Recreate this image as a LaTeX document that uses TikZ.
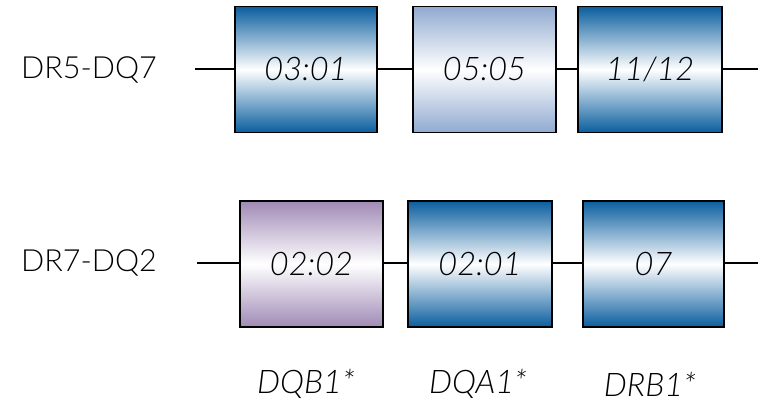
\documentclass[tikz,border=0pt]{standalone}
\usepackage{fontspec}
\setmainfont{Lato}[UprightFont=* Light, ItalicFont=* Light Italic]
\begin{document}
\begin{tikzpicture}[x=1pt,y=1pt,
  lbl/.style={font=\fontsize{30.5}{34}\selectfont, anchor=west, inner sep=0},
  boxtxt/.style={font=\fontsize{32.5}{36}\selectfont\itshape, inner sep=0},
  conn/.style={line width=1.6pt},
  blk/.style={draw=black, line width=1.8pt},
  blue/.style={blk, top color=dblue, bottom color=dblue, middle color=white},
  lblue/.style={blk, top color=lblue, bottom color=lblue, middle color=white},
  purp/.style={blk, top color=purpc, bottom color=purpc, middle color=white}]
\definecolor{dblue}{HTML}{0A5E9E}
\definecolor{lblue}{HTML}{90AAD0}
\definecolor{purpc}{HTML}{A08AB6}
\useasboundingbox (0,0) rectangle (769,406);
% row 1
\node[lbl] (r1) at (21,336) {DR5-DQ7};
\coordinate (r1s) at (195,337);
\coordinate (r1e) at (758,337);
\node[blue, minimum width=142pt, minimum height=126pt] (a1) at (306,336.5) {};
\node[lblue, minimum width=143pt, minimum height=126pt] (a2) at (484.5,336.5) {};
\node[blue, minimum width=144pt, minimum height=126pt] (a3) at (650,336.5) {};
\node[boxtxt] at (a1) {03:01};
\node[boxtxt] at (a2) {05:05};
\node[boxtxt] at (a3) {11/12};
\draw[conn] (r1s) -- (a1.west |- r1s);
\draw[conn] (a1.east |- r1s) -- (a2.west |- r1s);
\draw[conn] (a2.east |- r1s) -- (a3.west |- r1s);
\draw[conn] (a3.east |- r1s) -- (r1e);
% row 2
\node[lbl] (r2) at (21,143) {DR7-DQ2};
\coordinate (r2s) at (197,143);
\coordinate (r2e) at (758,143);
\node[purp, minimum width=143pt, minimum height=126pt] (b1) at (311.5,142) {};
\node[blue, minimum width=144pt, minimum height=126pt] (b2) at (480,142) {};
\node[blue, minimum width=141pt, minimum height=126pt] (b3) at (653.5,142) {};
\node[boxtxt] at (b1) {02:02};
\node[boxtxt] at (b2) {02:01};
\node[boxtxt] at (b3) {07};
\draw[conn] (r2s) -- (b1.west |- r2s);
\draw[conn] (b1.east |- r2s) -- (b2.west |- r2s);
\draw[conn] (b2.east |- r2s) -- (b3.west |- r2s);
\draw[conn] (b3.east |- r2s) -- (r2e);
% bottom labels
\node[boxtxt] (g1) at (306,22) {DQB1*};
\node[boxtxt] (g2) at (478,22) {DQA1*};
\node[boxtxt] (g3) at (650,22) {DRB1*};
\end{tikzpicture}
\end{document}
